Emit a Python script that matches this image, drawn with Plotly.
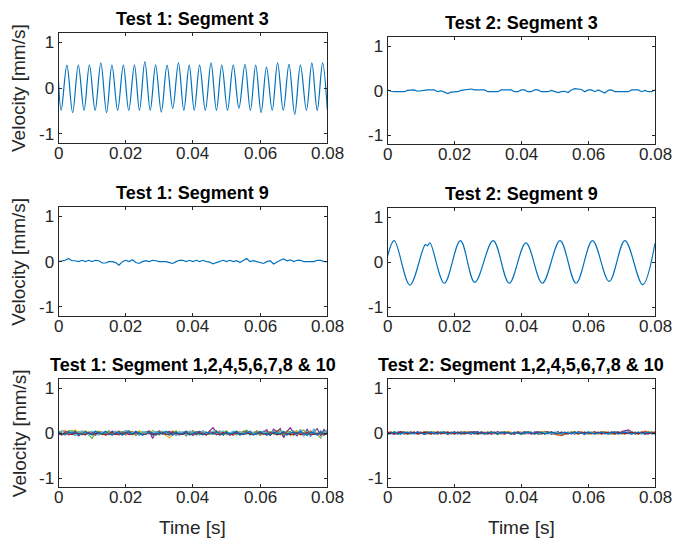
import numpy as np
import plotly.graph_objects as go

# ---------------- data ----------------
x_ticks = [0, 0.02, 0.04, 0.06, 0.08]
x_ticklabels = ["0", "0.02", "0.04", "0.06", "0.08"]
y_ticks = [-1, 0, 1]
y_ticklabels = ["-1", "0", "1"]

titles = ["Test 1: Segment 3", "Test 2: Segment 3",
          "Test 1: Segment 9", "Test 2: Segment 9",
          "Test 1: Segment 1,2,4,5,6,7,8 & 10", "Test 2: Segment 1,2,4,5,6,7,8 & 10"]

# Test 1, segment 3: extremes of the ~300 Hz oscillation
t1s3_start = [0.0, 0.15]
t1s3_end = [0.08, -0.47]
t1s3_trough_t = [0.0008, 0.0042, 0.0076, 0.0109, 0.0143, 0.0176, 0.0209, 0.0241,
                 0.0273, 0.0306, 0.0340, 0.0373, 0.0404, 0.0437, 0.0470, 0.0503,
                 0.0537, 0.0571, 0.0603, 0.0636, 0.0669, 0.0703, 0.0738, 0.0770]
t1s3_trough_v = [-0.49, -0.54, -0.49, -0.49, -0.54, -0.49, -0.49, -0.49,
                 -0.49, -0.53, -0.45, -0.49, -0.49, -0.49, -0.49, -0.49,
                 -0.44, -0.49, -0.54, -0.49, -0.49, -0.58, -0.49, -0.49]
t1s3_peak_t = [0.0025, 0.0059, 0.0092, 0.0126, 0.0159, 0.0193, 0.0226, 0.0257,
               0.0289, 0.0323, 0.0357, 0.0389, 0.0420, 0.0454, 0.0486, 0.0520,
               0.0555, 0.0587, 0.0619, 0.0652, 0.0686, 0.0720, 0.0754, 0.0786]
t1s3_peak_v = [0.50, 0.50, 0.50, 0.55, 0.50, 0.50, 0.50, 0.58,
               0.50, 0.50, 0.55, 0.50, 0.50, 0.55, 0.50, 0.50,
               0.52, 0.50, 0.46, 0.55, 0.52, 0.50, 0.55, 0.55]

# Test 2, segment 3: small residual motion
t2s3_v = [0.02, -0.01, -0.02, -0.02, -0.02, -0.02, 0.01, 0.01, 0.02, -0.01,
          0.0, 0.02, 0.02, 0.02, 0.02, -0.02, 0.0, -0.03, -0.06, -0.03,
          -0.03, -0.02, 0.01, 0.02, 0.02, 0.04, 0.02, 0.02, 0.02, 0.02,
          -0.02, -0.02, -0.02, -0.02, 0.02, 0.02, 0.02, 0.02, -0.02, -0.02,
          0.02, 0.02, -0.02, -0.02, 0.02, 0.02, -0.02, -0.02, -0.02, 0.01,
          -0.02, -0.04, -0.02, -0.01, -0.04, 0.02, 0.05, 0.04, 0.03, -0.02,
          0.02, 0.02, -0.02, 0.02, -0.01, -0.05, 0.01, 0.02, -0.02, -0.02,
          -0.02, -0.02, -0.02, 0.02, 0.02, 0.02, -0.02, 0.01, -0.02, -0.02, 0.02]

# Test 1, segment 9: small residual motion
t1s9_v = [0.0, 0.01, 0.03, 0.07, 0.02, 0.02, 0.0, 0.03, 0.0, 0.03,
          0.0, 0.03, 0.02, -0.03, -0.03, 0.0, 0.0, -0.02, -0.08, 0.0,
          0.03, 0.0, 0.04, -0.02, -0.04, 0.0, 0.02, 0.0, 0.03, 0.02,
          0.0, 0.0, 0.0, -0.02, -0.04, 0.0, 0.03, 0.03, 0.0, 0.03,
          0.0, 0.03, 0.0, 0.03, 0.0, -0.01, -0.05, -0.02, 0.0, 0.03,
          0.0, 0.03, 0.0, 0.02, -0.02, 0.03, 0.07, 0.0, 0.02, 0.0,
          -0.02, -0.04, 0.0, 0.02, -0.05, 0.0, 0.03, 0.06, 0.02, 0.04,
          0.0, 0.03, 0.03, 0.0, 0.0, 0.0, 0.0, 0.03, 0.03, 0.0, 0.0]

# Test 2, segment 9: extremes of the ~100 Hz oscillation
t2s9_t = [0.0, 0.0020, 0.0067, 0.0113, 0.0120, 0.0127, 0.0170, 0.0218, 0.0261,
          0.0316, 0.0364, 0.0414, 0.0463, 0.0516, 0.0564, 0.0613, 0.0663,
          0.0710, 0.0763, 0.0800]
t2s9_v = [0.13, 0.48, -0.51, 0.39, 0.37, 0.43, -0.47, 0.48, -0.45,
          0.48, -0.47, 0.43, -0.47, 0.48, -0.47, 0.48, -0.43,
          0.48, -0.50, 0.42]

# Other segments (1,2,4,5,6,7,8,10)
seg_colors = ["#0072BD", "#D95319", "#EDB120", "#7E2F8E",
              "#77AC30", "#4DBEEE", "#A2142F", "#0072BD"]

t1_other = [
    [0.05, -0.03, 0.02, 0.05, -0.02, -0.05, 0.03, 0.0, -0.04, 0.04, 0.01, -0.05, 0.03, 0.0, -0.03, 0.05,
     -0.04, 0.02, 0.0, -0.04, 0.04, 0.05, -0.02, 0.0, 0.04, -0.05, 0.02, 0.04, -0.04, 0.0, 0.05, -0.02,
     0.02, -0.05, 0.04, 0.0, -0.04, 0.03, -0.06, 0.02, 0.05, -0.02, 0.0, 0.04, -0.04, 0.02, -0.02, 0.05,
     -0.04, 0.0, 0.04, -0.05, 0.02, 0.0, -0.03, 0.04, 0.05, -0.04, 0.02, -0.02, 0.0, 0.04, -0.05, 0.02,
     0.04, -0.02, 0.0, -0.07, 0.03, 0.02, -0.04, 0.05, 0.0, -0.03, 0.04, -0.04, 0.07, -0.02, 0.02, -0.05, 0.03],
    [-0.03, 0.04, 0.05, -0.04, 0.0, 0.04, -0.02, 0.05, -0.04, 0.02, 0.0, -0.04, 0.04, 0.02, -0.05, 0.0,
     0.04, -0.02, 0.05, 0.0, -0.04, 0.02, 0.04, -0.05, 0.0, 0.02, -0.03, 0.04, 0.0, -0.04, 0.05, 0.02,
     -0.03, 0.0, 0.04, -0.05, 0.02, 0.0, 0.04, -0.02, 0.05, -0.04, 0.0, 0.02, -0.04, 0.04, 0.0, -0.03,
     0.05, -0.04, 0.02, 0.0, -0.05, 0.04, 0.02, -0.02, 0.0, 0.04, -0.04, 0.05, 0.0, -0.02, 0.04, -0.04,
     0.02, 0.05, -0.02, 0.0, 0.04, -0.05, 0.02, 0.04, -0.02, 0.0, -0.04, 0.05, 0.02, -0.04, 0.04, 0.0, -0.02],
    [0.02, 0.05, 0.0, -0.04, 0.04, 0.07, 0.02, -0.04, 0.0, 0.04, -0.02, 0.02, 0.05, -0.04, 0.0, 0.02,
     -0.05, 0.04, 0.0, 0.02, -0.03, 0.04, -0.04, 0.0, 0.05, 0.02, -0.02, 0.04, 0.0, -0.04, 0.02, 0.0,
     -0.05, -0.10, -0.03, 0.04, 0.0, 0.02, -0.04, 0.05, 0.0, -0.02, 0.04, 0.02, -0.04, 0.0, 0.05, -0.02,
     0.02, 0.04, -0.04, 0.0, 0.02, -0.05, 0.04, 0.0, 0.05, -0.02, 0.0, 0.04, -0.04, 0.02, 0.0, -0.03,
     0.05, 0.04, -0.04, 0.0, 0.02, -0.03, 0.04, 0.05, -0.04, 0.0, 0.06, -0.02, 0.04, 0.0, -0.04, 0.05, 0.02],
    [0.0, -0.04, 0.02, 0.04, -0.02, 0.0, -0.06, 0.02, 0.04, -0.02, 0.0, 0.04, -0.04, 0.02, 0.0, -0.03,
     0.04, 0.0, -0.04, 0.02, 0.05, 0.0, -0.02, 0.04, -0.04, 0.0, 0.02, 0.05, -0.12, 0.03, 0.02, -0.02,
     0.0, 0.04, -0.04, 0.02, 0.0, -0.03, 0.04, 0.0, -0.05, 0.02, 0.04, 0.0, -0.04, 0.05, 0.12, 0.02,
     -0.04, 0.0, 0.02, -0.03, 0.04, 0.0, -0.04, 0.02, 0.05, -0.02, 0.0, 0.04, -0.04, 0.02, 0.08, -0.06,
     0.09, 0.03, 0.10, -0.10, 0.04, 0.12, 0.0, -0.06, 0.08, -0.07, 0.09, -0.07, 0.03, 0.10, -0.06, 0.08, 0.0],
    [0.04, 0.0, -0.02, 0.04, 0.06, -0.04, 0.02, 0.0, 0.05, -0.04, -0.12, 0.02, 0.04, -0.02, 0.0, 0.04,
     -0.04, 0.02, 0.0, 0.04, -0.02, 0.05, 0.0, -0.04, 0.02, 0.0, 0.04, -0.02, 0.06, 0.0, -0.04, 0.02,
     0.04, -0.02, 0.0, 0.05, -0.04, 0.02, 0.0, -0.03, 0.04, 0.0, -0.04, 0.05, 0.02, -0.02, 0.0, 0.04,
     -0.04, 0.02, 0.05, -0.02, 0.0, 0.04, -0.04, 0.02, 0.07, -0.02, 0.0, 0.04, -0.05, 0.02, 0.0, 0.04,
     -0.02, 0.0, 0.06, -0.04, 0.02, 0.04, -0.05, 0.0, 0.04, 0.07, -0.02, 0.0, 0.05, -0.04, -0.11, 0.03, 0.02],
    [-0.04, 0.05, 0.0, -0.02, 0.04, -0.05, 0.02, 0.04, 0.0, -0.04, 0.05, 0.0, -0.03, 0.02, 0.04, -0.04,
     0.0, 0.05, -0.02, 0.0, 0.04, -0.04, 0.02, 0.0, -0.05, 0.04, 0.02, -0.02, 0.0, 0.04, -0.02, 0.05,
     0.0, -0.04, 0.02, -0.06, 0.04, 0.0, -0.02, 0.04, 0.02, -0.04, 0.0, 0.05, -0.02, 0.0, 0.04, -0.04,
     0.02, 0.05, -0.02, 0.0, 0.04, -0.04, 0.02, 0.0, -0.03, 0.05, 0.0, -0.04, 0.04, 0.02, -0.02, 0.0,
     0.04, -0.05, 0.02, 0.04, -0.04, 0.0, 0.05, -0.02, 0.07, -0.05, 0.04, -0.07, 0.10, -0.04, 0.06, -0.05, 0.08],
    [-0.01, -0.03, 0.01, -0.02, -0.03, 0.01, -0.01, -0.03, -0.02, 0.01, -0.03, -0.01, 0.01, -0.02, -0.03, -0.01,
     0.01, -0.03, -0.02, -0.01, 0.01, -0.03, -0.02, 0.01, -0.01, -0.03, -0.02, 0.01, -0.03, -0.01, -0.02, 0.01,
     -0.03, -0.02, 0.01, -0.01, -0.03, -0.02, 0.01, -0.03, -0.01, -0.02, 0.01, -0.02, -0.03, -0.01, 0.01, -0.03,
     -0.02, 0.01, -0.01, -0.03, -0.02, 0.01, -0.01, -0.03, 0.01, -0.02, -0.03, -0.01, 0.01, -0.02, -0.03, 0.01,
     -0.01, -0.03, -0.02, 0.01, -0.01, -0.03, -0.02, 0.01, -0.03, -0.01, 0.01, -0.02, -0.03, -0.01, 0.01, -0.03, -0.01],
    [0.03, -0.02, -0.04, 0.02, 0.0, 0.04, -0.04, -0.02, 0.03, 0.0, -0.04, 0.04, 0.0, -0.02, 0.04, -0.02,
     -0.04, 0.0, 0.03, -0.04, 0.0, 0.03, -0.02, 0.04, 0.0, -0.04, -0.02, 0.03, 0.0, -0.04, 0.02, -0.02,
     0.04, 0.0, -0.04, 0.02, -0.02, 0.0, 0.04, -0.04, 0.0, 0.03, -0.02, -0.04, 0.02, 0.0, -0.02, 0.04,
     0.0, -0.04, 0.02, -0.02, 0.0, 0.04, -0.04, -0.02, 0.0, 0.03, -0.04, 0.0, 0.04, -0.02, 0.0, -0.04,
     0.02, 0.0, -0.02, 0.04, -0.04, 0.0, 0.03, -0.02, 0.04, 0.0, -0.05, 0.02, 0.0, -0.04, 0.03, -0.02, 0.0],
]

t2_other = [
    [0.02, -0.02, 0.03, 0.0, -0.03, 0.02, 0.0, 0.03, -0.02, 0.0, 0.02, -0.03, 0.0, 0.03, 0.02, -0.02,
     0.0, 0.03, -0.03, 0.02, 0.0, -0.02, 0.03, 0.0, -0.02, 0.02, 0.03, -0.03, 0.0, 0.02, -0.02, 0.03,
     0.0, -0.03, 0.02, 0.0, 0.03, -0.02, 0.02, 0.0, -0.03, 0.03, 0.0, -0.02, 0.02, 0.03, -0.02, 0.0,
     0.02, -0.03, 0.0, 0.03, -0.02, -0.03, 0.0, 0.02, -0.02, 0.03, 0.0, -0.03, 0.02, 0.0, 0.03, -0.02,
     0.0, 0.02, -0.03, 0.0, 0.03, 0.02, -0.02, 0.0, 0.03, -0.03, 0.02, 0.0, -0.02, 0.03, 0.0, -0.02, 0.02],
    [-0.02, 0.02, 0.0, -0.03, 0.02, 0.03, -0.02, 0.0, 0.02, -0.03, 0.0, 0.02, 0.03, -0.02, 0.0, -0.03,
     0.02, 0.0, 0.03, -0.02, 0.0, 0.02, -0.03, 0.0, 0.03, 0.02, -0.02, 0.0, 0.02, -0.03, 0.0, 0.03,
     -0.02, 0.02, 0.0, -0.03, 0.02, 0.0, -0.02, 0.03, 0.0, -0.02, 0.02, -0.03, 0.0, 0.02, 0.03, -0.02,
     0.0, 0.02, -0.03, -0.04, -0.06, -0.03, 0.0, 0.02, -0.02, 0.0, 0.03, -0.02, 0.0, 0.02, -0.03, 0.0,
     0.03, 0.02, -0.02, 0.0, -0.03, 0.02, 0.0, 0.03, -0.02, 0.0, 0.02, -0.03, 0.0, 0.04, 0.02, -0.02, 0.0],
    [0.0, 0.03, -0.02, 0.0, 0.02, -0.03, 0.0, 0.03, 0.0, -0.02, 0.02, 0.0, -0.03, 0.02, 0.03, 0.0,
     -0.02, 0.0, 0.03, -0.03, 0.02, 0.0, -0.02, 0.03, 0.02, -0.02, 0.0, -0.03, 0.02, 0.0, 0.03, -0.02,
     0.0, 0.02, -0.03, 0.0, 0.03, 0.02, -0.02, 0.0, 0.03, -0.03, 0.0, 0.02, -0.02, 0.0, 0.03, 0.04,
     -0.02, 0.0, 0.02, -0.03, 0.0, 0.02, -0.02, 0.03, 0.0, -0.03, 0.02, 0.0, -0.02, 0.03, 0.0, 0.02,
     -0.03, 0.0, 0.02, -0.02, 0.03, 0.0, -0.03, 0.02, 0.0, 0.03, -0.02, 0.0, 0.02, -0.03, 0.04, 0.0, 0.02],
    [0.02, 0.0, -0.03, 0.02, 0.03, -0.02, 0.0, 0.02, -0.02, 0.03, 0.0, -0.03, 0.02, 0.0, -0.02, 0.03,
     0.0, 0.02, -0.03, 0.0, 0.03, -0.02, 0.0, 0.02, 0.0, -0.03, 0.02, 0.03, -0.02, 0.0, 0.02, -0.03,
     0.0, 0.03, 0.0, -0.02, 0.02, 0.0, -0.03, 0.02, 0.0, 0.03, -0.02, 0.0, 0.02, -0.03, 0.0, 0.02,
     0.03, -0.02, 0.0, 0.02, -0.03, 0.0, 0.02, 0.0, -0.02, 0.03, 0.0, -0.03, 0.02, 0.0, 0.03, -0.02,
     0.0, 0.02, -0.02, 0.03, 0.0, -0.02, 0.03, 0.05, 0.07, 0.03, -0.02, 0.0, 0.02, -0.03, 0.0, 0.02, 0.0],
    [-0.03, 0.0, 0.02, -0.02, 0.0, 0.03, -0.03, 0.0, 0.02, 0.0, -0.02, 0.03, 0.0, -0.03, 0.02, 0.0,
     0.03, -0.02, 0.0, 0.02, -0.03, 0.0, 0.03, -0.02, 0.0, 0.02, 0.0, -0.03, 0.03, 0.0, -0.02, 0.02,
     0.0, -0.03, 0.02, 0.03, 0.0, -0.02, 0.0, 0.02, -0.03, 0.0, 0.03, 0.02, -0.02, 0.0, -0.03, 0.02,
     0.0, 0.03, -0.02, 0.0, 0.02, -0.03, 0.0, 0.02, 0.03, -0.02, 0.0, 0.02, -0.03, 0.0, 0.02, 0.0,
     -0.02, 0.03, 0.0, -0.03, 0.02, 0.0, 0.02, -0.02, 0.0, 0.03, -0.03, 0.0, 0.02, 0.0, -0.02, 0.03, 0.0],
    [0.0, -0.02, 0.0, 0.02, 0.0, -0.02, 0.02, 0.0, -0.02, 0.0, 0.02, 0.0, -0.02, 0.0, 0.02, -0.02,
     0.0, 0.02, 0.0, -0.02, 0.0, 0.02, 0.0, -0.02, 0.02, 0.0, -0.02, 0.0, 0.02, 0.0, -0.02, 0.0,
     0.02, 0.0, -0.02, 0.02, 0.0, -0.02, 0.0, 0.02, 0.0, -0.02, 0.0, 0.02, -0.02, 0.0, 0.02, 0.0,
     -0.02, 0.0, 0.02, 0.0, -0.02, 0.0, 0.02, -0.02, 0.0, 0.02, 0.0, -0.02, 0.03, 0.0, -0.02, 0.0,
     0.02, 0.0, -0.02, 0.02, 0.0, -0.02, 0.0, 0.02, 0.0, -0.02, 0.0, 0.02, -0.02, 0.0, 0.02, 0.0, -0.02],
    [0.0, 0.02, -0.02, 0.0, 0.02, 0.0, -0.02, 0.0, 0.02, -0.02, 0.0, 0.02, 0.0, -0.02, 0.0, 0.02,
     -0.02, 0.0, 0.02, 0.0, -0.02, 0.02, 0.0, -0.02, 0.0, 0.02, 0.0, -0.02, 0.02, 0.0, -0.02, 0.0,
     0.02, -0.02, 0.0, 0.02, 0.0, -0.02, 0.0, 0.02, -0.02, 0.0, 0.02, 0.0, -0.02, 0.02, 0.0, -0.02,
     0.0, 0.02, 0.0, -0.02, 0.02, 0.0, -0.02, 0.0, 0.02, -0.02, 0.0, 0.02, 0.0, -0.02, 0.0, 0.02,
     -0.02, 0.0, 0.02, 0.0, -0.02, 0.02, 0.0, -0.02, 0.0, 0.02, 0.0, -0.02, 0.02, 0.0, -0.02, 0.0, 0.02],
    [-0.02, 0.0, 0.02, -0.02, 0.0, 0.01, 0.02, -0.02, 0.0, 0.02, 0.0, -0.02, 0.0, 0.02, -0.02, 0.0,
     0.01, 0.02, -0.02, 0.0, 0.02, 0.0, -0.02, 0.02, 0.0, 0.01, -0.02, 0.02, 0.0, -0.02, 0.0, 0.02,
     0.0, -0.02, 0.02, 0.0, 0.01, -0.02, 0.02, 0.0, -0.02, 0.0, 0.02, 0.0, -0.02, 0.0, 0.02, -0.02,
     0.0, 0.02, 0.0, -0.02, 0.0, 0.02, 0.0, -0.02, 0.02, 0.0, 0.01, -0.02, 0.02, 0.0, -0.02, 0.0,
     0.02, -0.02, 0.0, 0.01, 0.02, -0.02, 0.0, 0.02, 0.0, -0.02, 0.0, 0.02, 0.0, -0.02, 0.02, 0.0, -0.02],
]

# ---------------- figure ----------------
W, H = 673, 539
FONT = "Arial, 'Liberation Sans', Helvetica, sans-serif"
AXC = "#262626"
LINE_BLUE = "#0072BD"
LW = 1.2

# panel boxes in pixels (left, right, top, bottom)
boxes = [
    (58.5, 327.3, 33.3, 142.7), (387.5, 655.0, 37.3, 144.3),
    (58.5, 327.3, 207.3, 316.0), (387.5, 655.0, 208.3, 316.0),
    (58.5, 327.3, 379.3, 487.0), (387.5, 655.0, 379.0, 487.0),
]
title_y = [19, 22.5, 193, 193.5, 365, 365]

fig = go.Figure()


def ax_name(i):
    return "" if i == 1 else str(i)


def add_line(i, x, y, color, spline=False):
    fig.add_trace(go.Scatter(
        x=x, y=y, mode="lines",
        line=dict(color=color, width=LW, shape="spline" if spline else "linear",
                  smoothing=1.0),
        xaxis="x" + ax_name(i), yaxis="y" + ax_name(i), showlegend=False,
        hoverinfo="skip"))


# panel 1: Test 1, segment 3
t1s3_t = [t1s3_start[0]]
t1s3_y = [t1s3_start[1]]
for tt, tv, pt, pv in zip(t1s3_trough_t, t1s3_trough_v, t1s3_peak_t, t1s3_peak_v):
    t1s3_t += [tt, pt]
    t1s3_y += [tv, pv]
t1s3_t.append(t1s3_end[0])
t1s3_y.append(t1s3_end[1])
add_line(1, t1s3_t, t1s3_y, LINE_BLUE, spline=True)

# panel 2: Test 2, segment 3
add_line(2, np.linspace(0, 0.08, len(t2s3_v)), t2s3_v, LINE_BLUE)

# panel 3: Test 1, segment 9
add_line(3, np.linspace(0, 0.08, len(t1s9_v)), t1s9_v, LINE_BLUE)

# panel 4: Test 2, segment 9
add_line(4, t2s9_t, t2s9_v, LINE_BLUE, spline=True)

# panel 5 / 6: the other segments
for vals, col in zip(t1_other, seg_colors):
    add_line(5, np.linspace(0, 0.08, len(vals)), vals, col)
for vals, col in zip(t2_other, seg_colors):
    add_line(6, np.linspace(0, 0.08, len(vals)), vals, col)

layout = dict(
    width=W, height=H, margin=dict(l=0, r=0, t=0, b=0),
    paper_bgcolor="white", plot_bgcolor="white", showlegend=False,
    font=dict(family=FONT, color=AXC),
)
annotations = []
for k, (l, r, t, b) in enumerate(boxes):
    i = k + 1
    xd = [l / W, r / W]
    yd = [1 - b / H, 1 - t / H]
    common = dict(showline=True, linecolor=AXC, linewidth=1, mirror="ticks",
                  ticks="inside", ticklen=3, tickcolor=AXC, tickwidth=1,
                  showgrid=False, zeroline=False,
                  tickfont=dict(family=FONT, size=17, color=AXC))
    layout["xaxis" + ax_name(i)] = dict(
        domain=xd, anchor="y" + ax_name(i), range=[0, 0.08],
        tickmode="array", tickvals=x_ticks, ticktext=x_ticklabels,
        showticklabels=False, **common)
    layout["yaxis" + ax_name(i)] = dict(
        domain=yd, anchor="x" + ax_name(i), range=[-1.2, 1.2],
        tickmode="array", tickvals=y_ticks, ticktext=y_ticklabels, **common)
    # x tick labels, placed at the tick values of this axis
    for tv, tl in zip(x_ticks, x_ticklabels):
        annotations.append(dict(
            text=tl, x=tv, xref="x" + ax_name(i), y=1 - (b + 10.5) / H, yref="paper",
            xanchor="center", yanchor="middle", showarrow=False,
            font=dict(family=FONT, size=17, color=AXC)))
    annotations.append(dict(
        text="<b>" + titles[k] + "</b>", x=(xd[0] + xd[1]) / 2, y=1 - title_y[k] / H,
        xref="paper", yref="paper", xanchor="center", yanchor="middle",
        showarrow=False, font=dict(family=FONT, size=18, color="black")))
    if k % 2 == 0:
        annotations.append(dict(
            text="Velocity [mm/s]", x=19 / W, y=(yd[0] + yd[1]) / 2,
            xref="paper", yref="paper", xanchor="center", yanchor="middle",
            textangle=-90, showarrow=False, font=dict(family=FONT, size=19, color=AXC)))
    if k >= 4:
        annotations.append(dict(
            text="Time [s]", x=(xd[0] + xd[1]) / 2, y=1 - 527 / H,
            xref="paper", yref="paper", xanchor="center", yanchor="middle",
            showarrow=False, font=dict(family=FONT, size=19, color=AXC)))
layout["annotations"] = annotations
fig.update_layout(**layout)

fig.write_html("out.html")
